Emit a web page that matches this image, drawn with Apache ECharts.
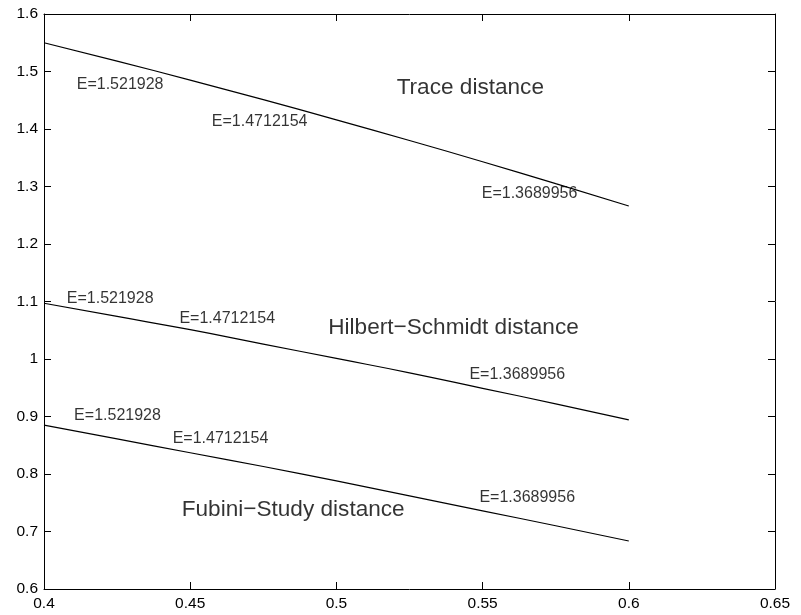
<!DOCTYPE html>
<html>
<head>
<meta charset="utf-8">
<script src="https://cdn.jsdelivr.net/npm/echarts@6/dist/echarts.min.js"></script>
<style>html,body{margin:0;padding:0;background:#fff;}#c{width:801px;height:615px;}</style>
</head>
<body>
<div id="c"></div>
<script>
// x samples
const xVals = [0.4, 0.425, 0.45, 0.475, 0.5, 0.525, 0.55, 0.575, 0.6];
// curves
const traceVals = [1.550, 1.518, 1.485, 1.451, 1.416, 1.380, 1.343, 1.305, 1.266];
const hsVals    = [1.097, 1.074, 1.051, 1.026, 1.001, 0.976, 0.949, 0.922, 0.894];
const fsVals    = [0.885, 0.861, 0.837, 0.813, 0.788, 0.762, 0.736, 0.710, 0.6835];
// E annotations [x, y, text]
const eLabels = [
  [0.4112, 1.4765, 'E=1.521928'],
  [0.4574, 1.4127, 'E=1.4712154'],
  [0.5497, 1.2882, 'E=1.3689956'],
  [0.4078, 1.1043, 'E=1.521928'],
  [0.4463, 1.0696, 'E=1.4712154'],
  [0.5455, 0.9722, 'E=1.3689956'],
  [0.4103, 0.9009, 'E=1.521928'],
  [0.4440, 0.8609, 'E=1.4712154'],
  [0.5489, 0.7595, 'E=1.3689956']
];
// curve titles [x, y, text]
const titles = [
  [0.5206, 1.4713, 'Trace distance'],
  [0.4972, 1.0548, 'Hilbert\u2212Schmidt distance'],
  [0.4471, 0.7374, 'Fubini\u2212Study distance']
];
const xTicks = { min: 0.4, max: 0.65, interval: 0.05 };
const yTicks = { min: 0.6, max: 1.6, interval: 0.1 };

const FONT = 'Liberation Sans, Arial, Helvetica, sans-serif';
const chart = echarts.init(document.getElementById('c'), null, {renderer: 'canvas'});
const pair = (xs, ys) => xs.map((x, i) => [x, ys[i]]);
const lineStyle = {color: '#000', width: 1.2};
const axisCommon = {
  axisLine: {show: true, onZero: false, lineStyle: {color: '#000', width: 1}},
  axisTick: {show: true, inside: true, length: 7, lineStyle: {color: '#000'}},
  splitLine: {show: false}
};
chart.setOption({
  backgroundColor: '#fff',
  animation: false,
  grid: {left: 44, right: 26, top: 14, bottom: 26, containLabel: false},
  xAxis: [
    Object.assign({type: 'value', position: 'bottom', min: xTicks.min, max: xTicks.max, interval: xTicks.interval,
      axisLabel: {color: '#000', fontSize: 15.5, fontFamily: FONT, margin: 7,
        formatter: v => String(+v.toFixed(2))}}, axisCommon),
    Object.assign({type: 'value', position: 'top', min: xTicks.min, max: xTicks.max, interval: xTicks.interval,
      axisLabel: {show: false}}, axisCommon)
  ],
  yAxis: [
    Object.assign({type: 'value', position: 'left', min: yTicks.min, max: yTicks.max, interval: yTicks.interval,
      axisLabel: {color: '#000', fontSize: 15.5, fontFamily: FONT, margin: 6,
        formatter: v => String(+v.toFixed(1))}}, axisCommon),
    Object.assign({type: 'value', position: 'right', min: yTicks.min, max: yTicks.max, interval: yTicks.interval,
      axisLabel: {show: false}}, axisCommon)
  ],
  series: [
    {type: 'line', data: pair(xVals, traceVals), smooth: true, symbol: 'none', lineStyle: lineStyle},
    {type: 'line', data: pair(xVals, hsVals), smooth: true, symbol: 'none', lineStyle: lineStyle},
    {type: 'line', data: pair(xVals, fsVals), smooth: true, symbol: 'none', lineStyle: lineStyle},
    {type: 'scatter', symbolSize: 0, silent: true,
      data: eLabels.map(d => ({value: [d[0], d[1]], name: d[2]})),
      label: {show: true, position: 'inside', align: 'left', verticalAlign: 'middle',
        formatter: p => p.name, color: '#000', fontSize: 16, fontFamily: FONT}},
    {type: 'scatter', symbolSize: 0, silent: true,
      data: titles.map(d => ({value: [d[0], d[1]], name: d[2]})),
      label: {show: true, position: 'inside', align: 'left', verticalAlign: 'middle',
        formatter: p => p.name, color: '#000', fontSize: 22.6, fontFamily: FONT}}
  ]
});
</script>
</body>
</html>
